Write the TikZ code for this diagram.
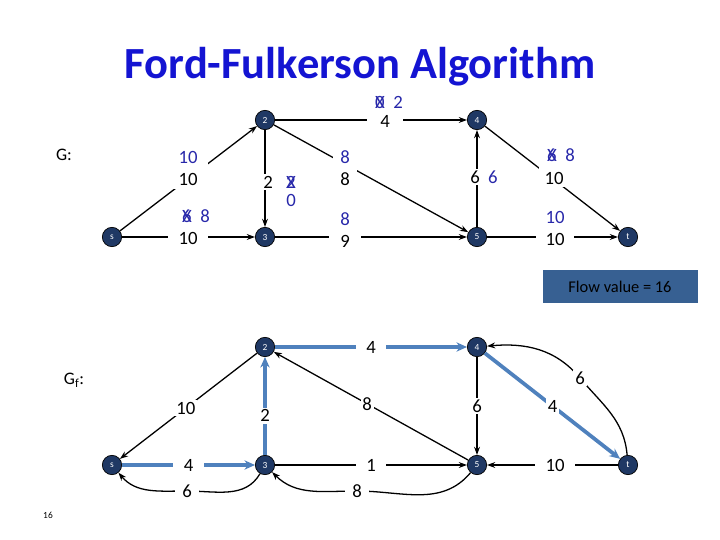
\documentclass[tikz,border=0pt]{standalone}
\usepackage{fontspec}
\setmainfont{Carlito}
\usetikzlibrary{arrows.meta}
\definecolor{nodeblue}{RGB}{31,56,100}
\definecolor{txtblue}{RGB}{40,40,170}
\definecolor{titleblue}{RGB}{20,20,210}
\definecolor{pathblue}{RGB}{79,129,189}
\definecolor{boxblue}{RGB}{55,96,146}
\begin{document}
\begin{tikzpicture}[x=0.03cm,y=-0.03cm,
  v/.style={circle,fill=nodeblue,draw=black,line width=0.6pt,minimum size=16.5pt,inner sep=0pt,text=white,font=\fontsize{8}{8}\selectfont},
  e/.style={-{Stealth[length=7pt,width=5pt]},line width=1.1pt},
  p/.style={-{Stealth[length=9pt,width=8pt]},line width=3.2pt,pathblue},
  lb/.style={fill=white,text=black,inner ysep=1.5pt,inner xsep=1.5pt,font=\fontsize{16}{16}\selectfont},
  gl/.style={lb,inner xsep=9pt},
  bl/.style={text=txtblue,inner sep=1pt,font=\fontsize{16}{16}\selectfont}]
\useasboundingbox (0,0) rectangle (720,540);
\node[text=titleblue,font=\fontsize{38}{38}\selectfont\bfseries] (title) at (360,67) {Ford-Fulkerson Algorithm};
\node[font=\fontsize{15}{15}\selectfont] (G) at (64,155) {G:};
\node[font=\fontsize{15}{15}\selectfont] (Gf) at (74,380) {G$_{\mathrm f}$:};
\node[font=\fontsize{8}{8}\selectfont] (pg) at (48,515) {16};
\node[fill=boxblue,inner sep=0pt,minimum height=33*0.03cm,minimum width=155*0.03cm,font=\fontsize{14}{14}\selectfont] (fv) at (620,287) {Flow value = 16};
% top graph
\node[v] (s) at (112,237) {s};
\node[v] (a2) at (265,120) {2};
\node[v] (a3) at (265,237) {3};
\node[v] (a4) at (477,120) {4};
\node[v] (a5) at (477,237) {5};
\node[v] (t) at (628,237) {t};
\draw[e] (s) -- (a2);
\draw[e] (s) -- (a3);
\draw[e] (a2) -- (a4);
\draw[e] (a2) -- (a3);
\draw[e] (a2) -- (a5);
\draw[e] (a3) -- (a5);
\draw[e] (a5) -- (a4);
\draw[e] (a4) -- (t);
\draw[e] (a5) -- (t);
% top labels
\node[lb,minimum width=34pt,minimum height=36pt] (c1) at (188,168) {};
\node[bl] (f1) at (188,157) {10};
\node[lb,inner sep=0pt] (k1) at (188,179) {10};
\node[lb,minimum width=34pt,minimum height=18pt] (c2) at (188,238) {10};
\node[bl] (f2) at (196,216) {\rlap{6}X\ \ 8};
\node[lb,minimum width=30pt,minimum height=32pt] (c3) at (385,112) {};
\node[bl] (f3) at (389,102) {\rlap{0}X\ \ 2};
\node[lb,inner sep=0pt] (k3) at (385,121) {4};
\node[lb] (k4) at (268,182) {2};
\node[bl] (f4) at (291,182) {\rlap{2}X};
\node[bl] (f4b) at (291,200) {0};
\node[lb,minimum width=20pt,minimum height=34pt] (c5) at (345,168) {};
\node[bl] (f5) at (345,157) {8};
\node[lb,inner sep=0pt] (k5) at (345,179) {8};
\node[lb,minimum width=28pt,minimum height=34pt] (c6) at (345,230) {};
\node[bl] (f6) at (345,219) {8};
\node[lb,inner sep=0pt] (k6) at (345,241) {9};
\node[lb,minimum width=38pt] (c7) at (484,177) {6\ \ \textcolor{txtblue}{6}};
\node[lb,minimum width=28pt,minimum height=34pt] (c8) at (555,167) {};
\node[bl] (f8) at (561,155) {\rlap{6}X\ \ 8};
\node[lb,inner sep=0pt] (k8) at (554,178) {10};
\node[lb,minimum width=32pt,minimum height=34pt] (c9) at (555,228) {};
\node[bl] (f9) at (555,217) {10};
\node[lb,inner sep=0pt] (k9) at (555,239) {10};
% bottom graph
\node[v] (bs) at (112,465) {s};
\node[v] (b2) at (265,347) {2};
\node[v] (b3) at (265,465) {3};
\node[v] (b4) at (477,347) {4};
\node[v] (b5) at (477,465) {5};
\node[v] (bt) at (628,465) {t};
\draw[e] (b2) -- node[lb,pos=0.52] (l1) {10} (bs);
\draw[e] (b5) -- node[lb,pos=0.52,inner ysep=4pt] (l2) {8} (b2);
\draw[e] (b4) -- node[lb] (l3) {6} (b5);
\draw[e] (b3) -- node[gl] (l4) {1} (b5);
\draw[e] (bt) -- node[gl,pos=0.48] (l5) {10} (b5);
\coordinate (q6) at (187,491);
\coordinate (q7) at (357,491);
\coordinate (q8) at (580,378);
\draw[e] (b3) to[out=-120,in=0] (q6) to[out=180,in=-50] (bs);
\draw[e] (b5) to[out=-130,in=0] (q7) to[out=180,in=-45] (b3);
\draw[e] (bt) to[out=95,in=-50] (q8) to[out=130,in=5] (b4);
\node[lb,inner xsep=6pt] (l6) at (q6) {6};
\node[lb,inner xsep=6pt] (l7) at (q7) {8};
\node[lb] (l8) at (q8) {6};
\draw[p] (bs) -- node[gl] (m1) {4} (b3);
\draw[p] (b3) -- node[lb,pos=0.4] (m2) {2} (b2);
\draw[p] (b2) -- node[gl] (m3) {4} (b4);
\draw[p] (b4) -- node[lb,pos=0.5] (m4) {4} (bt);
\end{tikzpicture}
\end{document}
